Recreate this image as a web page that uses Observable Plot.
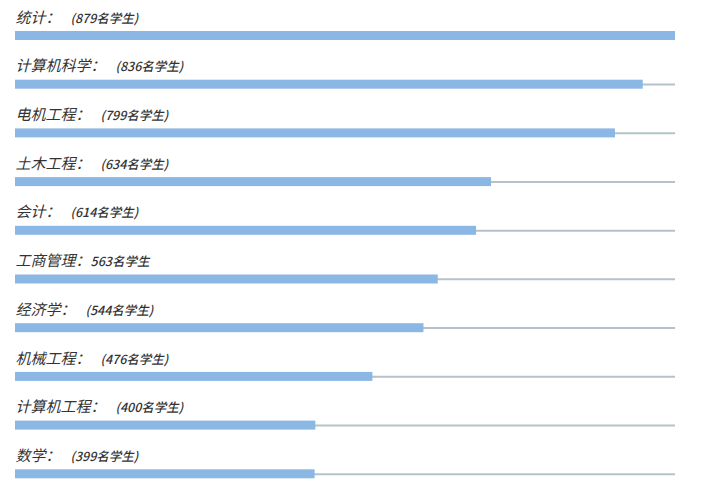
<!DOCTYPE html>
<html>
<head>
<meta charset="utf-8">
<script src="https://cdn.jsdelivr.net/npm/d3@7"></script>
<script src="https://cdn.jsdelivr.net/npm/@observablehq/plot@0.6"></script>
<style>
  html, body { margin: 0; padding: 0; background: #fff; }
  #chart svg { display: block; }
</style>
</head>
<body>
<div id="chart"></div>
<script>
const categories = ["统计", "计算机科学", "电机工程", "土木工程", "会计", "工商管理", "经济学", "机械工程", "计算机工程", "数学"];
const students = [879, 836, 799, 634, 614, 563, 544, 476, 400, 399];
const valueLabels = ["(879名学生)", "(836名学生)", "(799名学生)", "(634名学生)", "(614名学生)", "563名学生", "(544名学生)", "(476名学生)", "(400名学生)", "(399名学生)"];
const maxStudents = 879;

const data = categories.map((name, i) => ({name, value: students[i], label: valueLabels[i]}));

const font = "'Noto Sans CJK SC', 'Noto Sans', sans-serif";

const chart = Plot.plot({
  width: 720,
  height: 487,
  marginLeft: 15,
  marginRight: 45,
  marginTop: 0,
  marginBottom: 0,
  style: {fontFamily: font, background: "#fff"},
  x: {domain: [0, maxStudents], axis: null},
  y: {domain: categories, axis: null, padding: 0, round: false},
  marks: [
    Plot.ruleY(data, {y: "name", x1: 0, x2: maxStudents, stroke: "#b3c3c7", strokeWidth: 2, dy: 11}),
    Plot.barX(data, {y: "name", x: "value", fill: "#8bb7e4", insetTop: 31, insetBottom: 8.7}),
    Plot.text(data, {
      y: "name", x: 0, text: d => d.name + "：",
      textAnchor: "start", dy: -7, fontSize: 15, fill: "#333",
      fontStyle: "italic", fontWeight: 400,
      render(index, scales, values, dimensions, context, next) {
        const g = next(index, scales, values, dimensions, context);
        d3.select(g).selectAll("text").each(function(_, k) {
          const d = data[index[k]];
          d3.select(this).append("tspan")
            .attr("dx", d.label.startsWith("(") ? 10 : 0)
            .attr("font-size", 12.5)
            .attr("font-weight", 500)
            .attr("fill", "#333")
            .text(d.label);
        });
        return g;
      }
    })
  ]
});
document.getElementById("chart").append(chart);
</script>
</body>
</html>
